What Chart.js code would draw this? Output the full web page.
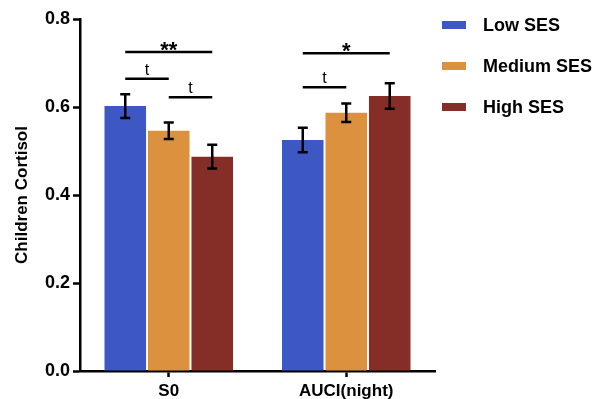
<!DOCTYPE html>
<html lang="en">
<head>
  <meta charset="UTF-8" />
  <title>Children Cortisol by SES</title>
  <script src="https://cdn.jsdelivr.net/npm/chart.js"></script>
  <style>
    html, body { margin: 0; padding: 0; background: #fff; }
    #wrap { width: 604px; height: 399px; }
  </style>
</head>
<body>
  <div id="wrap"><canvas id="chart" width="604" height="399"></canvas></div>

  <script>
    // data
    const categories = ["S0", "AUCI(night)"];
    const groups = ["Low SES", "Medium SES", "High SES"];
    const lowMean = [0.602, 0.525];
    const medMean = [0.546, 0.587];
    const highMean = [0.487, 0.625];
    const lowErr = [0.027, 0.028];
    const medErr = [0.019, 0.021];
    const highErr = [0.027, 0.029];
    const yTicks = [0, 0.2, 0.4, 0.6, 0.8];

    // significance brackets: category, from group, to group, height, label
    const sigCat = [0, 0, 0, 1, 1];
    const sigFrom = [0, 0, 1, 0, 0];
    const sigTo = [2, 1, 2, 2, 1];
    const sigY = [0.725, 0.664, 0.622, 0.722, 0.645];
    const sigText = ["**", "t", "t", "*", "t"];

    const colors = ["#3d57c5", "#db913d", "#852d27"];
    const FONT = "'Liberation Sans', Arial, sans-serif";

    const errorBars = {
      id: "errorBars",
      afterDatasetsDraw(chart) {
        const ctx = chart.ctx, y = chart.scales.y;
        const errs = [lowErr, medErr, highErr];
        ctx.save();
        ctx.strokeStyle = "#000";
        ctx.lineWidth = 2.5;
        chart.data.datasets.forEach((ds, i) => {
          chart.getDatasetMeta(i).data.forEach((bar, j) => {
            const top = y.getPixelForValue(ds.data[j] + errs[i][j]);
            const bot = y.getPixelForValue(ds.data[j] - errs[i][j]);
            ctx.beginPath();
            ctx.moveTo(bar.x, top); ctx.lineTo(bar.x, bot);
            ctx.moveTo(bar.x - 5, top); ctx.lineTo(bar.x + 5, top);
            ctx.moveTo(bar.x - 5, bot); ctx.lineTo(bar.x + 5, bot);
            ctx.stroke();
          });
        });
        ctx.restore();
      }
    };

    const brackets = {
      id: "brackets",
      afterDatasetsDraw(chart) {
        const ctx = chart.ctx, y = chart.scales.y;
        ctx.save();
        ctx.strokeStyle = "#000";
        ctx.fillStyle = "#000";
        ctx.lineWidth = 2.5;
        ctx.textAlign = "center";
        ctx.textBaseline = "alphabetic";
        sigText.forEach((txt, k) => {
          const x1 = chart.getDatasetMeta(sigFrom[k]).data[sigCat[k]].x;
          const x2 = chart.getDatasetMeta(sigTo[k]).data[sigCat[k]].x;
          const py = y.getPixelForValue(sigY[k]);
          ctx.beginPath();
          ctx.moveTo(x1, py); ctx.lineTo(x2, py);
          ctx.stroke();
          if (txt === "t") {
            ctx.font = "16px " + FONT;
            ctx.fillText(txt, (x1 + x2) / 2, py - 4);
          } else {
            ctx.font = "bold 22px " + FONT;
            ctx.fillText(txt, (x1 + x2) / 2, py + 5);
          }
        });
        ctx.restore();
      }
    };

    const sideLegend = {
      id: "sideLegend",
      afterDraw(chart) {
        const ctx = chart.ctx;
        ctx.save();
        ctx.font = "bold 18px " + FONT;
        ctx.textBaseline = "middle";
        ctx.textAlign = "left";
        groups.forEach((g, i) => {
          const cy = 25 + i * 41;
          ctx.fillStyle = colors[i];
          ctx.fillRect(442, cy - 4, 24, 8);
          ctx.fillStyle = "#000";
          ctx.fillText(g, 483, cy + 1);
        });
        ctx.restore();
      }
    };

    new Chart(document.getElementById("chart"), {
      type: "bar",
      data: {
        labels: categories,
        datasets: [
          { label: groups[0], data: lowMean, backgroundColor: colors[0] },
          { label: groups[1], data: medMean, backgroundColor: colors[1] },
          { label: groups[2], data: highMean, backgroundColor: colors[2] }
        ]
      },
      options: {
        responsive: false,
        animation: false,
        categoryPercentage: 0.735,
        barPercentage: 0.955,
        layout: { padding: { top: 19, right: 169, left: 0, bottom: 0 } },
        plugins: { legend: { display: false }, tooltip: { enabled: false } },
        scales: {
          x: {
            grid: { display: true, drawOnChartArea: false, offset: false, tickLength: 6, tickColor: "#000", tickWidth: 2.5 },
            border: { display: true, color: "#000", width: 2.5 },
            ticks: { color: "#000", font: { family: FONT, size: 17, weight: "bold" }, padding: 4 },
            afterFit(s) { s.height = 28; }
          },
          y: {
            min: 0,
            max: 0.8,
            afterBuildTicks(s) { s.ticks = yTicks.map(v => ({ value: v })); },
            grid: { display: true, drawOnChartArea: false, tickLength: 7, tickColor: "#000", tickWidth: 2.5 },
            border: { display: true, color: "#000", width: 2.5 },
            ticks: {
              color: "#000",
              padding: 3,
              font: { family: FONT, size: 18, weight: "bold" },
              callback: v => v.toFixed(1)
            },
            title: {
              display: true,
              text: "Children Cortisol",
              color: "#000",
              font: { family: FONT, size: 17, weight: "bold" },
              padding: { top: 12, bottom: 4 }
            },
            afterFit(s) { s.width = 80; }
          }
        }
      },
      plugins: [errorBars, brackets, sideLegend]
    });
  </script>
</body>
</html>
